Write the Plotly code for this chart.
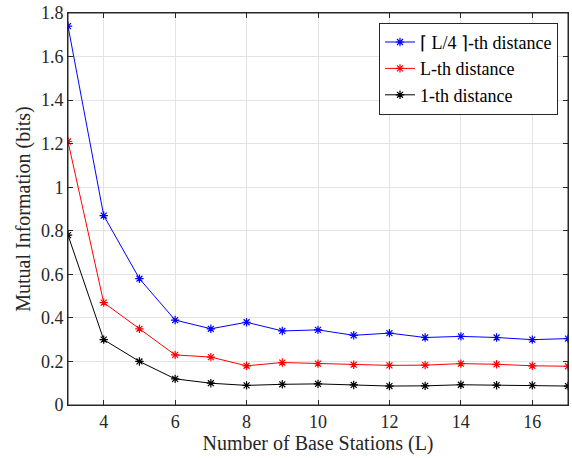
import plotly.graph_objects as go

L = [3, 4, 5, 6, 7, 8, 9, 10, 11, 12, 13, 14, 15, 16, 17]
quarter = [1.74, 0.87, 0.58, 0.39, 0.35, 0.38, 0.34, 0.345, 0.32, 0.33, 0.31, 0.315, 0.31, 0.30, 0.305]
lth = [1.21, 0.47, 0.35, 0.23, 0.22, 0.18, 0.195, 0.19, 0.185, 0.182, 0.183, 0.19, 0.187, 0.18, 0.178]
first = [0.78, 0.30, 0.20, 0.12, 0.10, 0.09, 0.095, 0.097, 0.092, 0.087, 0.088, 0.093, 0.091, 0.09, 0.087]

names = ["\u2308 L/4 \u2309-th distance", "L-th distance", "1-th distance"]
colors = ["#0000ff", "#ff0000", "#000000"]
series = [quarter, lth, first]

fig = go.Figure()
for name, c, y in zip(names, colors, series):
    fig.add_trace(go.Scatter(
        x=L, y=y, name=name, mode="lines+markers",
        line=dict(color=c, width=1),
        marker=dict(symbol="asterisk-open", size=7, color=c, line=dict(color=c, width=1.2)),
    ))

font = "Liberation Serif"
axis_common = dict(
    showline=True, linecolor="#262626", linewidth=1, mirror="ticks",
    ticks="inside", ticklen=5, tickcolor="#262626",
    showgrid=True, gridcolor="#e3e3e3", gridwidth=1, zeroline=False,
    tickfont=dict(family=font, size=18, color="#262626"),
)
fig.update_xaxes(range=[3, 17], tickvals=[4, 6, 8, 10, 12, 14, 16],
                 title=dict(text="Number of Base Stations (L)", font=dict(family=font, size=20, color="#262626"), standoff=2),
                 **axis_common)
fig.update_yaxes(range=[0, 1.8], tickvals=[0, 0.2, 0.4, 0.6, 0.8, 1, 1.2, 1.4, 1.6, 1.8],
                 ticktext=["0", "0.2", "0.4", "0.6", "0.8", "1", "1.2", "1.4", "1.6", "1.8"],
                 title=dict(text="Mutual Information (bits)", font=dict(family=font, size=20, color="#262626"), standoff=4),
                 **axis_common)
fig.add_shape(type="rect", xref="paper", yref="paper", x0=0, x1=1, y0=0, y1=1,
              line=dict(color="#262626", width=1), layer="above")
fig.update_layout(
    width=572, height=458,
    margin=dict(l=68, r=3, t=10, b=53),
    plot_bgcolor="white", paper_bgcolor="white",
    font=dict(family=font),
    legend=dict(x=0.98, y=0.975, xanchor="right", yanchor="top",
                bgcolor="white", bordercolor="#262626", borderwidth=1,
                font=dict(family=font, size=18, color="#000000"),
                tracegroupgap=0, itemwidth=30),
)
fig.write_html("out.html", config={"displayModeBar": False},
               post_script="document.body.style.margin='0';document.body.style.overflow='hidden';")
